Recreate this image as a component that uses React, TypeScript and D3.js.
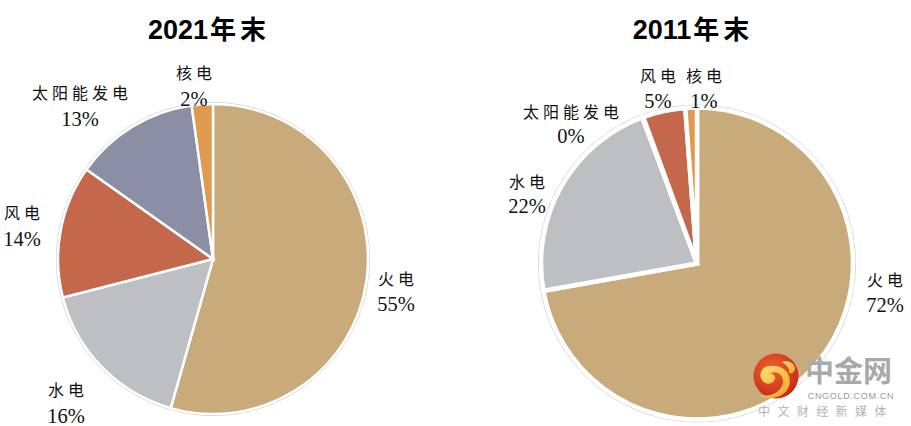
import React from 'react';
import * as d3 from 'd3';

const categories2021 = ['火电', '水电', '风电', '太阳能发电', '核电'];
const values2021 = [54.4, 16.6, 13.8, 13.0, 2.2];
const labels2021 = ['55%', '16%', '14%', '13%', '2%'];

const categories2011 = ['火电', '水电', '太阳能发电', '风电', '核电'];
const values2011 = [72.2, 22.1, 0.1, 4.4, 1.2];
const labels2011 = ['72%', '22%', '0%', '5%', '1%'];

const colorOf: Record<string, string> = {
  火电: '#C9AA7B',
  水电: '#BEBFC2',
  风电: '#C5674A',
  太阳能发电: '#8A8FA5',
  核电: '#E0994F',
};

const W = 911;
const H = 426;

type PieCfg = {
  title: string;
  titleYear: string;
  titleX: number;
  cx: number;
  cy: number;
  r: number;
  sep: number;
  cats: string[];
  vals: number[];
  labs: string[];
  anchors: [number, number, number][];
};

const pies: PieCfg[] = [
  {
    title: '年末',
    titleYear: '2021',
    titleX: 209,
    cx: 213,
    cy: 259,
    r: 155,
    sep: 2.5,
    cats: categories2021,
    vals: values2021,
    labs: labels2021,
    anchors: [
      [183, 26, 26],
      [-147, 137, 27],
      [-191, -40, 27],
      [-133, -160, 27],
      [-19, -180, 27],
    ],
  },
  {
    title: '年末',
    titleYear: '2011',
    titleX: 693,
    cx: 697,
    cy: 263.5,
    r: 156,
    sep: 4.5,
    cats: categories2011,
    vals: values2011,
    labs: labels2011,
    anchors: [
      [188, 22, 26],
      [-170, -76, 25],
      [-126, -146, 25],
      [-39, -182, 26],
      [7, -182, 26],
    ],
  },
];

const CJK = "'Noto Sans CJK SC', 'Liberation Serif', serif";
const NUM = "'Liberation Serif', 'Times New Roman', serif";

function Pie({ cfg }: { cfg: PieCfg }) {
  const pie = d3
    .pie<number>()
    .sort(null)
    .startAngle(0)
    .endAngle(2 * Math.PI)
    .value((d) => d);
  const arcs = pie(cfg.vals);
  const arc = d3.arc<d3.PieArcDatum<number>>().innerRadius(0).outerRadius(cfg.r);
  return (
    <g>
      <text
        x={cfg.titleX}
        y={38.5}
        textAnchor="middle"
        fontWeight="bold"
        fontSize={27}
        fill="#000"
      >
        <tspan fontFamily="'Liberation Sans', Arial, sans-serif">{cfg.titleYear}</tspan>
        <tspan fontFamily={CJK} letterSpacing={4} fontSize={26} dx={2}>
          {cfg.title}
        </tspan>
      </text>
      <g transform={`translate(${cfg.cx},${cfg.cy})`}>
        <circle r={cfg.r + cfg.sep / 2 + 0.3} fill="none" stroke="#cdcdcd" strokeWidth={0.9} />
        {arcs.map((a, i) => (
          <path
            key={i}
            d={arc(a) || ''}
            fill={colorOf[cfg.cats[i]]}
            stroke="#fff"
            strokeWidth={cfg.sep}
            strokeLinejoin="miter"
          />
        ))}
      </g>
      {cfg.cats.map((c, i) => {
        const [dx, dy, gap] = cfg.anchors[i];
        const x = cfg.cx + dx;
        const y = cfg.cy + dy;
        return (
          <g key={c}>
            <text
              x={x + 2}
              y={y}
              textAnchor="middle"
              fontFamily={CJK}
              fontSize={16}
              letterSpacing={4}
              fill="#111"
            >
              {c}
            </text>
            <text
              x={x}
              y={y + gap}
              textAnchor="middle"
              fontFamily={NUM}
              fontSize={20.5}
              fill="#111"
            >
              {cfg.labs[i]}
            </text>
          </g>
        );
      })}
    </g>
  );
}

function Watermark() {
  return (
    <g>
      <defs>
        <radialGradient id="lg" cx="0.4" cy="0.35" r="0.7">
          <stop offset="0" stopColor="#f0642a" />
          <stop offset="1" stopColor="#c42818" />
        </radialGradient>
        <linearGradient id="sw" x1="0" y1="0" x2="1" y2="1">
          <stop offset="0" stopColor="#fde07a" />
          <stop offset="1" stopColor="#f5a524" />
        </linearGradient>
      </defs>
      <circle cx={776} cy={376} r={22.5} fill="url(#lg)" />
      <path
        d="M770 366 c-8 0 -12 8 -8 14 c3 5 11 5 13 -1 c1 -3 -2 -6 -5 -5 c3 -3 10 -2 12 3 c3 6 -1 14 -9 17 c-5 2 -10 2 -14 1 c5 3 12 4 18 2 c10 -3 15 -12 12 -21 c-2 -7 -10 -11 -19 -10 z"
        fill="url(#sw)"
      />
      <path
        d="M782 362 c6 -2 12 1 13 6 c0 4 -3 6 -6 5 c1 -4 -2 -8 -7 -11 z"
        fill="url(#sw)"
      />
      <text
        x={805}
        y={381.5}
        fontFamily={CJK}
        fontWeight="bold"
        fontSize={29}
        fill="#a9a9a9"
      >
        中金网
      </text>
      <text
        x={851}
        y={398.5}
        textAnchor="middle"
        fontFamily="'Liberation Sans', Arial, sans-serif"
        fontSize={9}
        letterSpacing={0.7}
        fill="#9a9a9a"
      >
        CNGOLD.COM.CN
      </text>
      <text
        x={758}
        y={416}
        fontFamily={CJK}
        fontSize={12}
        letterSpacing={7.4}
        fill="#b3b3b3"
      >
        中文财经新媒体
      </text>
    </g>
  );
}

export default function App() {
  return (
    <svg
      width={W}
      height={H}
      viewBox={`0 0 ${W} ${H}`}
      style={{ position: 'absolute', left: 0, top: 0, background: '#fff' }}
    >
      <rect width={W} height={H} fill="#fff" />
      {pies.map((p) => (
        <Pie key={p.titleYear} cfg={p} />
      ))}
      <Watermark />
    </svg>
  );
}
